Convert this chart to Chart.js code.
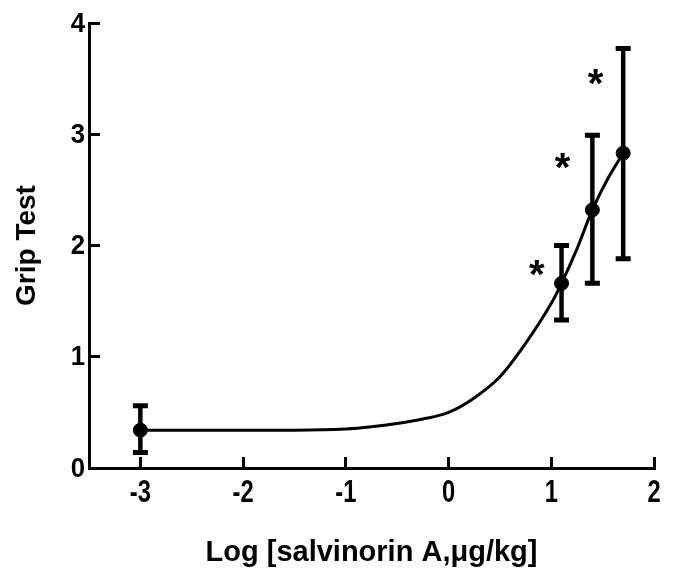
<!DOCTYPE html>
<html>
<head>
<meta charset="utf-8">
<script src="https://cdn.jsdelivr.net/npm/chart.js@4"></script>
<style>
  html, body { margin: 0; padding: 0; background: #fff; }
  #wrap { width: 673px; height: 578px; }
</style>
</head>
<body>
<div id="wrap"><canvas id="chart" width="673" height="578"></canvas></div>
<script>
// measured doses (log) and grip test means with error bar ends
const doseX = [-3, 1.1, 1.4, 1.7];
const gripMean = [0.34, 1.66, 2.32, 2.83];
const errLow = [0.14, 1.33, 1.66, 1.88];
const errHigh = [0.56, 2.0, 2.99, 3.77];

// fitted curve
const fitX = [-3, -2.5, -2, -1.5, -1, -0.75, -0.5, -0.25, 0, 0.25, 0.5, 0.75, 1.0, 1.1, 1.25, 1.4, 1.55, 1.7];
const fitY = [0.34, 0.34, 0.34, 0.34, 0.35, 0.37, 0.40, 0.44, 0.50, 0.63, 0.82, 1.12, 1.48, 1.66, 1.97, 2.32, 2.60, 2.83];

// significance marks
const sigX = [0.86, 1.11, 1.43];
const sigY = [1.78, 2.74, 3.5];

const xTicks = [-3, -2, -1, 0, 1, 2];
const yTicks = [0, 1, 2, 3, 4];

const titleFont = { family: "'Liberation Sans', Arial, sans-serif", weight: 'bold', size: 28 };

// condensed text helper (tick digits in the original are narrow)
function narrowText(ctx, txt, px, py, align, squeeze){
  ctx.save();
  ctx.translate(px, py);
  ctx.scale(squeeze, 1);
  ctx.textAlign = align;
  ctx.fillText(txt, 0, 0);
  ctx.restore();
}

// error bars, tick labels, asterisks
const extras = {
  id: 'extras',
  beforeDatasetsDraw(chart){
    const {ctx, scales:{x, y}} = chart;
    ctx.save();
    ctx.strokeStyle = '#000';
    ctx.lineCap = 'butt';
    doseX.forEach((d,i)=>{
      const px = x.getPixelForValue(d);
      const top = y.getPixelForValue(errHigh[i]);
      const bot = y.getPixelForValue(errLow[i]);
      ctx.lineWidth = 4.5;
      ctx.beginPath(); ctx.moveTo(px, top); ctx.lineTo(px, bot); ctx.stroke();
      ctx.lineWidth = 5;
      ctx.beginPath();
      ctx.moveTo(px-7.5, top); ctx.lineTo(px+7.5, top);
      ctx.moveTo(px-7.5, bot); ctx.lineTo(px+7.5, bot);
      ctx.stroke();
    });

    // tick labels
    ctx.fillStyle = '#000';
    ctx.textBaseline = 'middle';
    ctx.font = "bold 32px 'Liberation Sans', Arial, sans-serif";
    xTicks.forEach(v=> narrowText(ctx, String(v), x.getPixelForValue(v), 493, 'center', 0.74));
    ctx.font = "bold 28px 'Liberation Sans', Arial, sans-serif";
    yTicks.forEach(v=> narrowText(ctx, String(v), 85, y.getPixelForValue(v) + 1, 'right', 0.92));
    ctx.restore();
  },
  afterDatasetsDraw(chart){
    const {ctx, scales:{x, y}} = chart;
    ctx.save();
    ctx.fillStyle = '#000';
    ctx.font = "bold 40px 'Liberation Sans', Arial, sans-serif";
    ctx.textAlign = 'center';
    ctx.textBaseline = 'alphabetic';
    sigX.forEach((v,i)=>{
      ctx.fillText('*', x.getPixelForValue(v), y.getPixelForValue(sigY[i]) + 18);
    });
    ctx.restore();
  }
};

new Chart(document.getElementById('chart'), {
  type: 'scatter',
  data: {
    datasets: [
      {
        type: 'line',
        data: fitX.map((v,i)=>({x:v, y:fitY[i]})),
        borderColor: '#000',
        borderWidth: 3,
        pointRadius: 0,
        cubicInterpolationMode: 'monotone',
        fill: false
      },
      {
        data: doseX.map((v,i)=>({x:v, y:gripMean[i]})),
        backgroundColor: '#000',
        borderColor: '#000',
        pointRadius: 7,
        pointHoverRadius: 7
      }
    ]
  },
  options: {
    responsive: false,
    animation: false,
    events: [],
    layout: { padding: { top: 23, right: 19, left: 0, bottom: 0 } },
    plugins: { legend: { display: false }, tooltip: { enabled: false } },
    scales: {
      x: {
        type: 'linear',
        min: -3.5, max: 2,
        afterBuildTicks: s => { s.ticks = xTicks.map(v=>({value:v})); },
        afterFit: s => { s.height = 110; },
        border: { display: true, color: '#000', width: 3 },
        // negative length: ticks point into the plot like the original
        grid: { display: true, drawOnChartArea: false, drawTicks: true, tickLength: -11, tickWidth: 3, tickColor: '#000' },
        ticks: { display: false },
        title: { display: true, text: 'Log [salvinorin A,\u03bcg/kg]', color: '#000', font: { ...titleFont, size: 29 }, padding: { top: 0, bottom: 8 } }
      },
      y: {
        type: 'linear',
        min: 0, max: 4,
        afterBuildTicks: s => { s.ticks = yTicks.map(v=>({value:v})); },
        afterFit: s => { s.width = 89; },
        border: { display: true, color: '#000', width: 3 },
        grid: { display: true, drawOnChartArea: false, drawTicks: true, tickLength: -11, tickWidth: 3, tickColor: '#000' },
        ticks: { display: false },
        title: { display: true, text: 'Grip Test', color: '#000', font: titleFont, padding: { top: 10, bottom: 0 } }
      }
    }
  },
  plugins: [extras]
});
</script>
</body>
</html>
